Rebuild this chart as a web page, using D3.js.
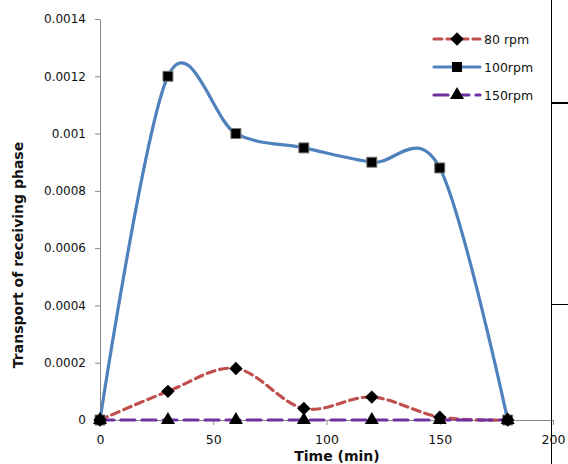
<!DOCTYPE html>
<html>
<head>
<meta charset="utf-8">
<script src="https://cdn.jsdelivr.net/npm/d3@7"></script>
<style>
  body { margin: 0; background: #fff; }
  text { font-family: "DejaVu Sans", sans-serif; }
</style>
</head>
<body>
<svg id="chart" width="568" height="464"></svg>
<script>
// Time points (min)
const times = [0, 30, 60, 90, 120, 150, 180];
// Transport into the receiving phase at each stirring speed
const rpm80  = [0, 0.0001, 0.00018, 0.00004, 0.00008, 0.00001, 0];
const rpm100 = [0, 0.0012, 0.001, 0.00095, 0.0009, 0.00088, 0];
const rpm150 = [0, 0, 0, 0, 0, 0, 0];
const seriesNames = ["80 rpm", "100rpm", "150rpm"];
const xTicks = [0, 50, 100, 150, 200];
const yTicks = [0, 0.0002, 0.0004, 0.0006, 0.0008, 0.001, 0.0012, 0.0014];
const yTickLabels = ["0", "0.0002", "0.0004", "0.0006", "0.0008", "0.001", "0.0012", "0.0014"];

const svg = d3.select("#chart");
const x = d3.scaleLinear().domain([0, 200]).range([100, 553]);
const y = d3.scaleLinear().domain([0, 0.0014]).range([420, 19]);

// axes
const xAxis = svg.append("g").attr("transform", `translate(0,${y(0)})`)
  .call(d3.axisBottom(x).tickValues(xTicks).tickSize(5).tickSizeOuter(0).tickFormat(d3.format("d")));
xAxis.select(".domain").attr("stroke", "#888");
xAxis.selectAll(".tick line").attr("stroke", "#888");
xAxis.selectAll(".tick text").attr("font-size", 12.5).attr("fill", "#111").attr("dy", "1.3em");

const yAxis = svg.append("g").attr("transform", `translate(${x(0)},0)`)
  .call(d3.axisLeft(y).tickValues(yTicks).tickSize(5).tickSizeOuter(0)
    .tickFormat((d, i) => yTickLabels[i]));
yAxis.select(".domain").attr("stroke", "#888");
yAxis.selectAll(".tick line").attr("stroke", "#888");
yAxis.selectAll(".tick text").attr("font-size", 12).attr("fill", "#111").attr("dx", "-0.5em");

// axis titles
svg.append("text").attr("x", 337).attr("y", 461).attr("text-anchor", "middle")
  .attr("font-size", 14).attr("font-weight", "bold").attr("fill", "#111").text("Time (min)");
svg.append("text").attr("transform", "translate(23,255) rotate(-90)").attr("text-anchor", "middle")
  .attr("font-size", 14).attr("font-weight", "bold").attr("fill", "#111").text("Transport of receiving phase");

const line = d3.line().x((d, i) => x(times[i])).y(d => y(d)).curve(d3.curveCatmullRom.alpha(0));

// square diamond marker (a square turned 45 degrees)
const diamond = {
  draw(ctx, size) {
    const r = Math.sqrt(size / 2);
    ctx.moveTo(0, -r); ctx.lineTo(r, 0); ctx.lineTo(0, r); ctx.lineTo(-r, 0); ctx.closePath();
  }
};

const series = [
  { name: seriesNames[0], values: rpm80, color: "#C0504D", dash: "8,5", marker: diamond, size: 90 },
  { name: seriesNames[1], values: rpm100, color: "#4F81BD", dash: null, marker: d3.symbolSquare, size: 100 },
  { name: seriesNames[2], values: rpm150, color: "#7030A0", dash: "14,7", marker: d3.symbolTriangle, size: 85 }
];

// draw in order so the flat 150 rpm line sits over the others at zero
[series[1], series[0], series[2]].forEach(s => {
  svg.append("path").attr("d", line(s.values)).attr("fill", "none")
    .attr("stroke", s.color).attr("stroke-width", 3.2)
    .attr("stroke-dasharray", s.dash).attr("stroke-linecap", "round");
});
[series[1], series[0], series[2]].forEach(s => {
  svg.append("g").selectAll("path").data(s.values).join("path")
    .attr("transform", (d, i) => `translate(${x(times[i])},${y(d)})`)
    .attr("d", d3.symbol().type(s.marker).size(s.size))
    .attr("fill", "#000").attr("stroke", s.marker === d3.symbolSquare ? "#777" : "none").attr("stroke-width", 1);
});

// legend
const legend = svg.append("g");
series.forEach((s, i) => {
  const ly = 39 + i * 28;
  legend.append("line").attr("x1", 434).attr("x2", 480).attr("y1", ly).attr("y2", ly)
    .attr("stroke", s.color).attr("stroke-width", 3.2).attr("stroke-dasharray", s.dash)
    .attr("stroke-linecap", "round");
  legend.append("path").attr("transform", `translate(457,${ly})`)
    .attr("d", d3.symbol().type(s.marker).size(s.size)).attr("fill", "#000");
  legend.append("text").attr("x", 484).attr("y", ly + 5).attr("font-size", 12.5).attr("fill", "#111").text(s.name);
});

// frame lines along the right edge
svg.append("line").attr("x1", 551.5).attr("x2", 551.5).attr("y1", 0).attr("y2", 464).attr("stroke", "#000").attr("stroke-width", 1);
svg.append("line").attr("x1", 551).attr("x2", 568).attr("y1", 103).attr("y2", 103).attr("stroke", "#000").attr("stroke-width", 2);
svg.append("line").attr("x1", 551).attr("x2", 568).attr("y1", 304.5).attr("y2", 304.5).attr("stroke", "#000").attr("stroke-width", 1);
</script>
</body>
</html>
